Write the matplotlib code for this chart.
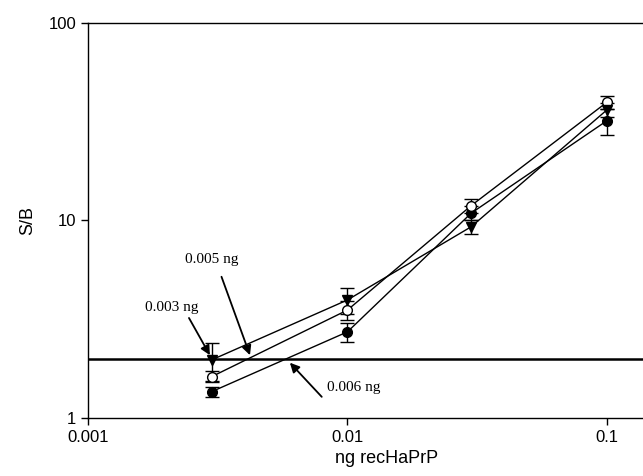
import matplotlib
matplotlib.use("Agg")
import matplotlib.pyplot as plt

# Amount of recombinant hamster PrP (ng) and signal-to-background ratios
amount_ng = [0.003, 0.01, 0.03, 0.1]

sb_filled = [1.36, 2.73, 10.9, 32.0]
err_filled = [0.08, 0.30, 0.9, 4.8]

sb_open = [1.62, 3.52, 11.9, 39.7]
err_open = [0.10, 0.40, 1.0, 3.1]

sb_tri = [1.97, 3.96, 9.3, 36.3]
err_tri = [0.43, 0.58, 0.8, 3.0]

cutoff = 2.0

# Detection-limit call-outs: (label, text position, arrow tip)
callouts = [
    ("0.003 ng", (0.00211, 3.61), (0.00295, 2.08)),
    ("0.005 ng", (0.00300, 6.31), (0.00421, 2.08)),
    ("0.006 ng", (0.0106, 1.42), (0.0060, 1.905)),
]
arrow_starts = [(0.00245, 3.21), (0.00327, 5.19), (0.00796, 1.28)]

plt.rcParams["font.family"] = ["Liberation Sans", "DejaVu Sans"]

fig = plt.figure(figsize=(6.43, 4.76), dpi=100)
# Axes reach past the right edge of the figure
ax = fig.add_axes([88 / 643, 58 / 476, 597 / 643, 395 / 476])

common = dict(color="black", lw=1.0, elinewidth=1.0, capsize=5, capthick=1.0)
ax.errorbar(amount_ng, sb_filled, yerr=err_filled, marker="o", ms=7,
            mfc="black", mec="black", **common)
ax.errorbar(amount_ng, sb_open, yerr=err_open, marker="o", ms=7,
            mfc="white", mec="black", **common)
ax.errorbar(amount_ng, sb_tri, yerr=err_tri, marker="v", ms=7,
            mfc="black", mec="black", **common)

ax.axhline(cutoff, color="black", lw=1.8)

ax.set_xscale("log")
ax.set_yscale("log")
ax.set_xlim(0.001, 0.2)
ax.set_ylim(1, 100)
ax.set_xticks([0.001, 0.01, 0.1])
ax.set_xticklabels(["0.001", "0.01", "0.1"])
ax.set_yticks([1, 10, 100])
ax.set_yticklabels(["1", "10", "100"])
ax.minorticks_off()
ax.tick_params(labelsize=12, length=5, width=1, direction="out")

for s in ax.spines.values():
    s.set_linewidth(1.0)

ax.set_xlabel("ng recHaPrP", fontsize=13, labelpad=4)
ax.set_ylabel("S/B", fontsize=13, labelpad=9)

for (label, txt, tip), start in zip(callouts, arrow_starts):
    ax.text(txt[0], txt[1], label, fontsize=11, family="Liberation Serif",
            ha="center", va="center")
    ax.annotate("", xy=tip, xytext=start,
                arrowprops=dict(arrowstyle="-|>", color="black", lw=1.3,
                                mutation_scale=14, shrinkA=0, shrinkB=0))

fig.savefig("out.png", dpi=100)
